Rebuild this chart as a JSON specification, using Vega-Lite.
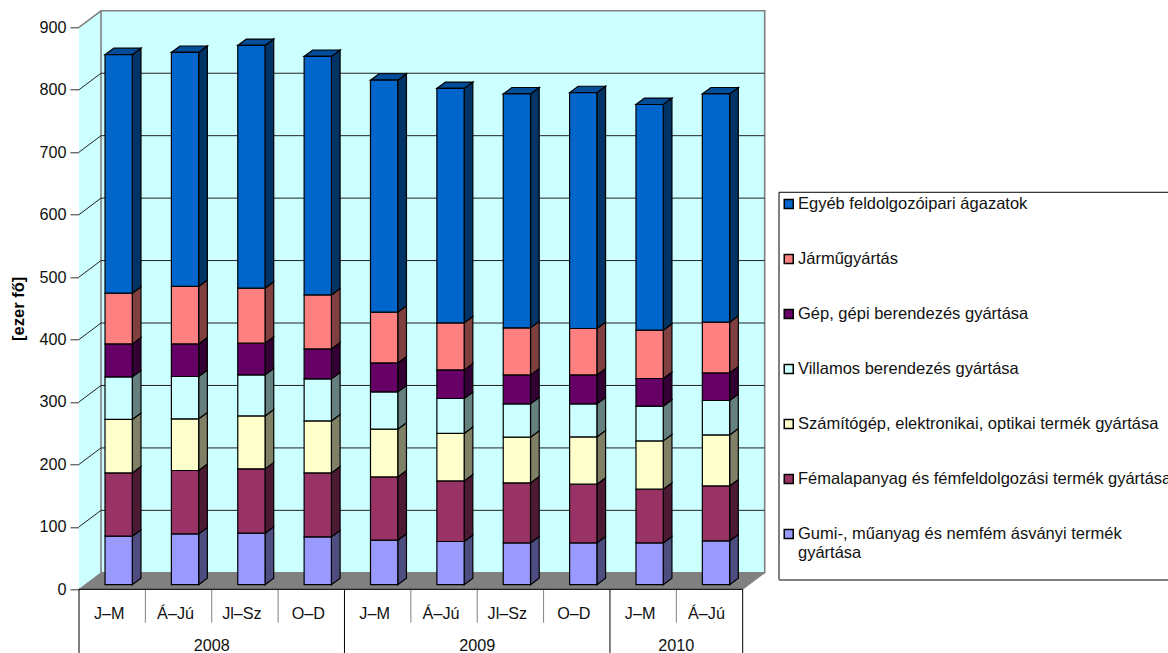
{"$schema":"https://vega.github.io/schema/vega-lite/v6.json","usermeta":{"embedOptions":{"actions":false}},"autosize":"none","padding":{"left":79,"top":27.3,"right":425.3,"bottom":63.7},"width":663.7,"height":562,"background":"white","config":{"view":{"stroke":null},"font":"Liberation Sans"},
"datasets":{"rows":[
{"period":"J–M","year":"2008","i":0,"s":1,"series":"Gumi-, műanyag és nemfém ásványi termék gyártása","value":77.7},{"period":"J–M","year":"2008","i":0,"s":2,"series":"Fémalapanyag és fémfeldolgozási termék gyártása","value":101.3},{"period":"J–M","year":"2008","i":0,"s":3,"series":"Számítógép, elektronikai, optikai termék gyártása","value":85.6},{"period":"J–M","year":"2008","i":0,"s":4,"series":"Villamos berendezés gyártása","value":68.2},{"period":"J–M","year":"2008","i":0,"s":5,"series":"Gép, gépi berendezés gyártása","value":52.8},{"period":"J–M","year":"2008","i":0,"s":6,"series":"Járműgyártás","value":81.3},{"period":"J–M","year":"2008","i":0,"s":7,"series":"Egyéb feldolgozóipari ágazatok","value":382.1},
{"period":"Á–Jú","year":"2008","i":1,"s":1,"series":"Gumi-, műanyag és nemfém ásványi termék gyártása","value":81.4},{"period":"Á–Jú","year":"2008","i":1,"s":2,"series":"Fémalapanyag és fémfeldolgozási termék gyártása","value":101.5},{"period":"Á–Jú","year":"2008","i":1,"s":3,"series":"Számítógép, elektronikai, optikai termék gyártása","value":82.7},{"period":"Á–Jú","year":"2008","i":1,"s":4,"series":"Villamos berendezés gyártása","value":67.8},{"period":"Á–Jú","year":"2008","i":1,"s":5,"series":"Gép, gépi berendezés gyártása","value":52.2},{"period":"Á–Jú","year":"2008","i":1,"s":6,"series":"Járműgyártás","value":92},{"period":"Á–Jú","year":"2008","i":1,"s":7,"series":"Egyéb feldolgozóipari ágazatok","value":374.8},
{"period":"Jl–Sz","year":"2008","i":2,"s":1,"series":"Gumi-, műanyag és nemfém ásványi termék gyártása","value":82.5},{"period":"Jl–Sz","year":"2008","i":2,"s":2,"series":"Fémalapanyag és fémfeldolgozási termék gyártása","value":103},{"period":"Jl–Sz","year":"2008","i":2,"s":3,"series":"Számítógép, elektronikai, optikai termék gyártása","value":84.8},{"period":"Jl–Sz","year":"2008","i":2,"s":4,"series":"Villamos berendezés gyártása","value":65.7},{"period":"Jl–Sz","year":"2008","i":2,"s":5,"series":"Gép, gépi berendezés gyártása","value":50.8},{"period":"Jl–Sz","year":"2008","i":2,"s":6,"series":"Járműgyártás","value":88.1},{"period":"Jl–Sz","year":"2008","i":2,"s":7,"series":"Egyéb feldolgozóipari ágazatok","value":388.7},
{"period":"O–D","year":"2008","i":3,"s":1,"series":"Gumi-, műanyag és nemfém ásványi termék gyártása","value":76.6},{"period":"O–D","year":"2008","i":3,"s":2,"series":"Fémalapanyag és fémfeldolgozási termék gyártása","value":102.4},{"period":"O–D","year":"2008","i":3,"s":3,"series":"Számítógép, elektronikai, optikai termék gyártása","value":83.3},{"period":"O–D","year":"2008","i":3,"s":4,"series":"Villamos berendezés gyártása","value":67.3},{"period":"O–D","year":"2008","i":3,"s":5,"series":"Gép, gépi berendezés gyártása","value":48},{"period":"O–D","year":"2008","i":3,"s":6,"series":"Járműgyártás","value":86.5},{"period":"O–D","year":"2008","i":3,"s":7,"series":"Egyéb feldolgozóipari ágazatok","value":381.9},
{"period":"J–M","year":"2009","i":4,"s":1,"series":"Gumi-, műanyag és nemfém ásványi termék gyártása","value":71.3},{"period":"J–M","year":"2009","i":4,"s":2,"series":"Fémalapanyag és fémfeldolgozási termék gyártása","value":101.3},{"period":"J–M","year":"2009","i":4,"s":3,"series":"Számítógép, elektronikai, optikai termék gyártása","value":76.4},{"period":"J–M","year":"2009","i":4,"s":4,"series":"Villamos berendezés gyártása","value":59.8},{"period":"J–M","year":"2009","i":4,"s":5,"series":"Gép, gépi berendezés gyártása","value":46.4},{"period":"J–M","year":"2009","i":4,"s":6,"series":"Járműgyártás","value":81.2},{"period":"J–M","year":"2009","i":4,"s":7,"series":"Egyéb feldolgozóipari ágazatok","value":371.6},
{"period":"Á–Jú","year":"2009","i":5,"s":1,"series":"Gumi-, műanyag és nemfém ásványi termék gyártása","value":69.2},{"period":"Á–Jú","year":"2009","i":5,"s":2,"series":"Fémalapanyag és fémfeldolgozási termék gyártása","value":97},{"period":"Á–Jú","year":"2009","i":5,"s":3,"series":"Számítógép, elektronikai, optikai termék gyártása","value":76},{"period":"Á–Jú","year":"2009","i":5,"s":4,"series":"Villamos berendezés gyártása","value":56},{"period":"Á–Jú","year":"2009","i":5,"s":5,"series":"Gép, gépi berendezés gyártása","value":45.8},{"period":"Á–Jú","year":"2009","i":5,"s":6,"series":"Járműgyártás","value":75.3},{"period":"Á–Jú","year":"2009","i":5,"s":7,"series":"Egyéb feldolgozóipari ágazatok","value":375.4},
{"period":"Jl–Sz","year":"2009","i":6,"s":1,"series":"Gumi-, műanyag és nemfém ásványi termék gyártása","value":66.9},{"period":"Jl–Sz","year":"2009","i":6,"s":2,"series":"Fémalapanyag és fémfeldolgozási termék gyártása","value":96.1},{"period":"Jl–Sz","year":"2009","i":6,"s":3,"series":"Számítógép, elektronikai, optikai termék gyártása","value":73.2},{"period":"Jl–Sz","year":"2009","i":6,"s":4,"series":"Villamos berendezés gyártása","value":53.4},{"period":"Jl–Sz","year":"2009","i":6,"s":5,"series":"Gép, gépi berendezés gyártása","value":46.4},{"period":"Jl–Sz","year":"2009","i":6,"s":6,"series":"Járműgyártás","value":75.3},{"period":"Jl–Sz","year":"2009","i":6,"s":7,"series":"Egyéb feldolgozóipari ágazatok","value":374.7},
{"period":"O–D","year":"2009","i":7,"s":1,"series":"Gumi-, műanyag és nemfém ásványi termék gyártása","value":66.9},{"period":"O–D","year":"2009","i":7,"s":2,"series":"Fémalapanyag és fémfeldolgozási termék gyártása","value":94.1},{"period":"O–D","year":"2009","i":7,"s":3,"series":"Számítógép, elektronikai, optikai termék gyártása","value":75.7},{"period":"O–D","year":"2009","i":7,"s":4,"series":"Villamos berendezés gyártása","value":52.9},{"period":"O–D","year":"2009","i":7,"s":5,"series":"Gép, gépi berendezés gyártása","value":46.4},{"period":"O–D","year":"2009","i":7,"s":6,"series":"Járműgyártás","value":74.3},{"period":"O–D","year":"2009","i":7,"s":7,"series":"Egyéb feldolgozóipari ágazatok","value":377.7},
{"period":"J–M","year":"2010","i":8,"s":1,"series":"Gumi-, műanyag és nemfém ásványi termék gyártása","value":66.9},{"period":"J–M","year":"2010","i":8,"s":2,"series":"Fémalapanyag és fémfeldolgozási termék gyártása","value":86.1},{"period":"J–M","year":"2010","i":8,"s":3,"series":"Számítógép, elektronikai, optikai termék gyártása","value":77.3},{"period":"J–M","year":"2010","i":8,"s":4,"series":"Villamos berendezés gyártása","value":55.6},{"period":"J–M","year":"2010","i":8,"s":5,"series":"Gép, gépi berendezés gyártása","value":44.3},{"period":"J–M","year":"2010","i":8,"s":6,"series":"Járműgyártás","value":77.4},{"period":"J–M","year":"2010","i":8,"s":7,"series":"Egyéb feldolgozóipari ágazatok","value":361.4},
{"period":"Á–Jú","year":"2010","i":9,"s":1,"series":"Gumi-, műanyag és nemfém ásványi termék gyártása","value":70.1},{"period":"Á–Jú","year":"2010","i":9,"s":2,"series":"Fémalapanyag és fémfeldolgozási termék gyártása","value":88.1},{"period":"Á–Jú","year":"2010","i":9,"s":3,"series":"Számítógép, elektronikai, optikai termék gyártása","value":81.7},{"period":"Á–Jú","year":"2010","i":9,"s":4,"series":"Villamos berendezés gyártása","value":55.1},{"period":"Á–Jú","year":"2010","i":9,"s":5,"series":"Gép, gépi berendezés gyártása","value":44.2},{"period":"Á–Jú","year":"2010","i":9,"s":6,"series":"Járműgyártás","value":81.2},{"period":"Á–Jú","year":"2010","i":9,"s":7,"series":"Egyéb feldolgozóipari ágazatok","value":365.6}
],
"ticks":[{"v":0},{"v":100},{"v":200},{"v":300},{"v":400},{"v":500},{"v":600},{"v":700},{"v":800},{"v":900}],
"depth":[{"d":0},{"d":1}],
"single":[{"k":1}],
"periodEdges":[{"b":1},{"b":2},{"b":3},{"b":5},{"b":6},{"b":7},{"b":9}],
"yearEdges":[{"b":0},{"b":4},{"b":8},{"b":10}]},
"data":{"name":"rows"},
"transform":[{"stack":"value","groupby":["i"],"sort":[{"field":"s","order":"ascending"}],"as":["v0","v1"]},{"calculate":"datum.v0+7.37","as":"f0"},{"calculate":"datum.v1+7.37","as":"f1"},{"calculate":"datum.i+0.392","as":"xl"},{"calculate":"datum.i+0.803","as":"xr"}],
"resolve":{"scale":{"color":"independent"},"axis":{"y":"independent"}},
"layer":[
{"data":{"name":"depth"},"transform":[{"calculate":"datum.d*0.3315","as":"x"},{"calculate":"datum.d*26.43","as":"y0"},{"calculate":"900+datum.d*26.43","as":"y1"}],"mark":{"type":"area","fill":"#CCFFFF"},"encoding":{"x":{"field":"x","type":"quantitative","scale":{"domain":[0,10]},"axis":null},"y":{"field":"y0","type":"quantitative","scale":{"domain":[0,900]},"axis":null,"stack":null},"y2":{"field":"y1"}}},
{"data":{"name":"single"},"mark":{"type":"rect","fill":"#CCFFFF","stroke":"#808080","strokeWidth":1.6},"encoding":{"x":{"datum":0.3315,"type":"quantitative","axis":null},"x2":{"datum":10.3315},"y":{"datum":26.43,"type":"quantitative","axis":null},"y2":{"datum":926.43}}},
{"data":{"name":"depth"},"transform":[{"calculate":"datum.d*0.3315","as":"x0"},{"calculate":"10+datum.d*0.3315","as":"x1"},{"calculate":"datum.d*26.43","as":"y"}],"mark":{"type":"area","orient":"horizontal","fill":"#808080","stroke":"#808080"},"encoding":{"y":{"field":"y","type":"quantitative","axis":null},"x":{"field":"x0","type":"quantitative","axis":null,"stack":null},"x2":{"field":"x1"}}},
{"data":{"name":"ticks"},"transform":[{"filter":"datum.v>0 && datum.v<900"},{"calculate":"datum.v+26.43","as":"w"}],"mark":{"type":"rule","stroke":"#222222","strokeWidth":1},"encoding":{"x":{"datum":0.3315,"type":"quantitative","axis":null},"x2":{"datum":10.3315},"y":{"field":"w","type":"quantitative","axis":null}}},
{"data":{"name":"ticks"},"transform":[{"filter":"datum.v>0"},{"calculate":"datum.v+26.43","as":"w"}],"mark":{"type":"rule"},"encoding":{"x":{"datum":0,"type":"quantitative","axis":null},"x2":{"datum":0.3315},"y":{"field":"v","type":"quantitative","axis":null},"y2":{"field":"w"},"stroke":{"condition":{"test":"datum.v==900","value":"#808080"},"value":"#222222"},"strokeWidth":{"condition":{"test":"datum.v==900","value":1.6},"value":1}}},
{"transform":[{"calculate":"[0,1]","as":"dd"},{"flatten":["dd"]},{"calculate":"datum.xr+datum.dd*0.131","as":"sx"},{"calculate":"datum.f0+datum.dd*10.25","as":"s0"},{"calculate":"datum.f1+datum.dd*10.25","as":"s1"}],"mark":{"type":"area","stroke":"black","strokeWidth":1.2},"encoding":{"x":{"field":"sx","type":"quantitative","axis":null},"y":{"field":"s0","type":"quantitative","axis":null,"stack":null},"y2":{"field":"s1"},"detail":[{"field":"i"},{"field":"s"}],"color":{"field":"series","type":"nominal","legend":null,"scale":{"domain":["Egyéb feldolgozóipari ágazatok","Járműgyártás","Gép, gépi berendezés gyártása","Villamos berendezés gyártása","Számítógép, elektronikai, optikai termék gyártása","Fémalapanyag és fémfeldolgozási termék gyártása","Gumi-, műanyag és nemfém ásványi termék gyártása"],"range":["#003366","#804040","#330033","#668080","#808066","#4D1A33","#4D4D80"]}}}},
{"transform":[{"filter":"datum.s==7"},{"calculate":"[0,1]","as":"dd"},{"flatten":["dd"]},{"calculate":"datum.f1+datum.dd*10.25","as":"ty"},{"calculate":"datum.xl+datum.dd*0.131","as":"t0"},{"calculate":"datum.xr+datum.dd*0.131","as":"t1"}],"mark":{"type":"area","orient":"horizontal","fill":"#004D99","stroke":"black","strokeWidth":1.2},"encoding":{"y":{"field":"ty","type":"quantitative","axis":null},"x":{"field":"t0","type":"quantitative","axis":null,"stack":null},"x2":{"field":"t1"},"detail":{"field":"i"}}},
{"mark":{"type":"rect","stroke":"black","strokeWidth":1.2},"encoding":{"x":{"field":"xl","type":"quantitative","axis":null},"x2":{"field":"xr"},"y":{"field":"f0","type":"quantitative","title":"[ezer fő]","axis":{"values":[0,100,200,300,400,500,600,700,800,900],"grid":false,"tickSize":9,"tickColor":"#333333","domainColor":"black","labelFontSize":16.2,"labelColor":"#111111","labelPadding":4,"labelFont":"Liberation Sans","titleFont":"Liberation Sans","titleFontSize":16.5,"titleFontWeight":"bold","titleColor":"black","titlePadding":12}},"y2":{"field":"f1"},"color":{"field":"series","type":"nominal","scale":{"domain":["Egyéb feldolgozóipari ágazatok","Járműgyártás","Gép, gépi berendezés gyártása","Villamos berendezés gyártása","Számítógép, elektronikai, optikai termék gyártása","Fémalapanyag és fémfeldolgozási termék gyártása","Gumi-, műanyag és nemfém ásványi termék gyártása"],"range":["#0066CC","#FF8080","#660066","#CCFFFF","#FFFFCC","#993366","#9999FF"]},"legend":{"orient":"none","legendX":701.5,"legendY":168.5,"title":null,"symbolType":"square","symbolSize":81,"symbolStrokeColor":"black","symbolStrokeWidth":1.5,"rowPadding":38,"labelFont":"Liberation Sans","labelFontSize":16.5,"labelColor":"#111111","labelLimit":800,"labelOffset":1,"labelExpr":"indexof(datum.label,'Gumi')==0 ? ['Gumi-, műanyag és nemfém ásványi termék','gyártása'] : datum.label"}}}},
{"data":{"name":"single"},"mark":{"type":"rect","fill":"white","stroke":"black","strokeWidth":1},"encoding":{"x":{"datum":10.547,"type":"quantitative","axis":null},"x2":{"datum":16.6},"y":{"datum":14.9,"type":"quantitative","axis":null},"y2":{"datum":635.8}}},
{"data":{"name":"single"},"mark":{"type":"rule","stroke":"#808080","strokeWidth":2.2},"encoding":{"x":{"datum":10.547,"type":"quantitative","axis":null},"x2":{"datum":16.6},"y":{"datum":14.9,"type":"quantitative","axis":null}}},
{"data":{"name":"periodEdges"},"mark":{"type":"rule","stroke":"#808080","strokeWidth":1},"encoding":{"x":{"field":"b","type":"quantitative","axis":null},"y":{"datum":0,"type":"quantitative","axis":null},"y2":{"datum":-53.5}}},
{"data":{"name":"yearEdges"},"mark":{"type":"rule","stroke":"black","strokeWidth":1},"encoding":{"x":{"field":"b","type":"quantitative","axis":null},"y":{"datum":0,"type":"quantitative","axis":null},"y2":{"datum":-102}}},
{"data":{"name":"single"},"mark":{"type":"rule","stroke":"black","strokeWidth":1},"encoding":{"x":{"datum":0,"type":"quantitative","axis":null},"x2":{"datum":10},"y":{"datum":0,"type":"quantitative","axis":null}}},
{"transform":[{"filter":"datum.s==1"},{"calculate":"datum.i+0.5","as":"c"}],"mark":{"type":"text","font":"Liberation Sans","fontSize":16.2,"color":"#111111","dx":-3,"baseline":"middle"},"encoding":{"x":{"field":"c","type":"quantitative","axis":null},"y":{"datum":-39.5,"type":"quantitative","axis":null},"text":{"field":"period"}}},
{"transform":[{"filter":"datum.s==1"},{"aggregate":[{"op":"mean","field":"i","as":"m"}],"groupby":["year"]},{"calculate":"datum.m+0.5","as":"c"}],"mark":{"type":"text","font":"Liberation Sans","fontSize":16.2,"color":"#111111","baseline":"middle"},"encoding":{"x":{"field":"c","type":"quantitative","axis":null},"y":{"datum":-90,"type":"quantitative","axis":null},"text":{"field":"year"}}}
]}
